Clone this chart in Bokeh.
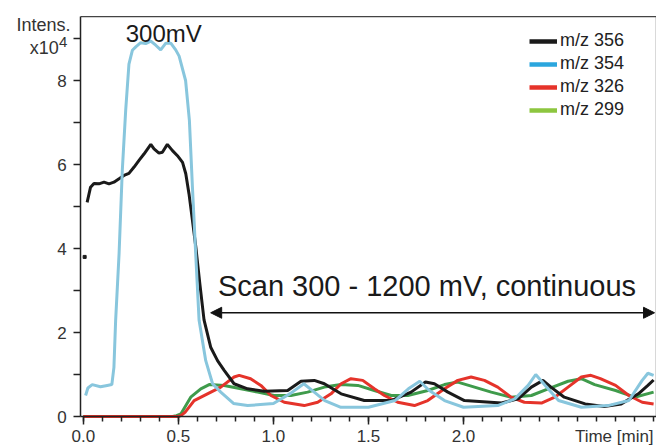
from bokeh.plotting import figure
from bokeh.models import (Range1d, FixedTicker, Label, Legend, LegendItem,
                          Arrow, NormalHead, LinearAxis)
from bokeh.embed import file_html
from bokeh.resources import INLINE

FONT = "Liberation Sans"
NAN = float("nan")

# ---- data (time in min, intensity in x10^4) ----
t_356 = [0.02, 0.038, 0.056, 0.082, 0.109, 0.135, 0.161, 0.188, 0.214, 0.24, 0.267, 0.293,
         0.319, 0.355, 0.372, 0.398, 0.416, 0.442, 0.469, 0.495, 0.522, 0.539, 0.556, 0.574,
         0.592, 0.612, 0.635, 0.67, 0.706, 0.741, 0.793, 0.864, 0.952, 1.075, 1.145, 1.215,
         1.268, 1.356, 1.478, 1.62, 1.724, 1.80, 1.847, 1.918, 2.005, 2.2, 2.287, 2.357,
         2.418, 2.46, 2.53, 2.64, 2.74, 2.83, 2.92, 2.97, 3.0]
i_356 = [5.1, 5.46, 5.55, 5.54, 5.58, 5.54, 5.58, 5.66, 5.74, 5.79, 5.94, 6.1,
         6.25, 6.48, 6.37, 6.27, 6.29, 6.48, 6.33, 6.21, 6.05, 5.78, 5.3, 4.67,
         4.03, 3.2, 2.3, 1.65, 1.33, 1.1, 0.78, 0.66, 0.6, 0.62, 0.84, 0.86,
         0.78, 0.54, 0.38, 0.38, 0.58, 0.82, 0.78, 0.58, 0.38, 0.32, 0.42, 0.7,
         0.86, 0.7, 0.46, 0.3, 0.24, 0.3, 0.54, 0.74, 0.87]

t_354 = [0.012, 0.024, 0.047, 0.09, 0.126, 0.15, 0.161, 0.17, 0.188, 0.205, 0.223, 0.24,
         0.258, 0.276, 0.302, 0.328, 0.355, 0.381, 0.407, 0.434, 0.46, 0.486, 0.504, 0.538,
         0.558, 0.574, 0.592, 0.609, 0.644, 0.68, 0.723, 0.79, 0.864, 1.0, 1.09, 1.16,
         1.21, 1.27, 1.355, 1.5, 1.64, 1.71, 1.77, 1.82, 1.9, 2.0, 2.18, 2.27, 2.34, 2.38,
         2.43, 2.5, 2.62, 2.76, 2.87, 2.94, 2.97, 3.0]
i_354 = [0.5, 0.68, 0.76, 0.71, 0.74, 0.76, 1.17, 2.29, 3.87, 5.86, 7.3, 8.39,
         8.72, 8.8, 8.9, 8.88, 8.94, 8.84, 8.73, 8.89, 8.89, 8.73, 8.58, 8.0,
         7.05, 5.46, 3.8, 2.29, 1.33, 0.78, 0.58, 0.31, 0.26, 0.31, 0.55, 0.78,
         0.6, 0.38, 0.22, 0.22, 0.38, 0.66, 0.84, 0.62, 0.38, 0.22, 0.26, 0.42, 0.74, 1.0,
         0.74, 0.38, 0.22, 0.26, 0.38, 0.86, 1.03, 0.98]

t_326 = [0.0, 0.5, 0.513, 0.535, 0.583, 0.653, 0.723, 0.793, 0.82, 0.88, 0.934, 0.987,
         1.057, 1.162, 1.233, 1.303, 1.356, 1.408, 1.47, 1.531, 1.584, 1.654, 1.742, 1.812,
         1.9, 1.97, 2.04, 2.11, 2.18, 2.25, 2.32, 2.41, 2.48, 2.55, 2.62, 2.67, 2.72, 2.8,
         2.87, 2.94, 3.0]
i_326 = [0.0, 0.0, 0.02, 0.1, 0.38, 0.54, 0.7, 0.94, 0.98, 0.9, 0.74, 0.5,
         0.34, 0.26, 0.34, 0.54, 0.78, 0.9, 0.86, 0.66, 0.5, 0.34, 0.26, 0.38,
         0.66, 0.86, 0.94, 0.86, 0.7, 0.46, 0.34, 0.32, 0.46, 0.7, 0.94, 0.98, 0.9, 0.74,
         0.5, 0.34, 0.3]

t_299 = [0.0, 0.47, 0.49, 0.513, 0.565, 0.618, 0.662, 0.741, 0.829, 0.917, 1.004, 1.092,
         1.18, 1.268, 1.356, 1.444, 1.531, 1.62, 1.707, 1.812, 1.9, 1.97, 2.058, 2.146,
         2.25, 2.357, 2.445, 2.55, 2.62, 2.69, 2.8, 2.9, 3.0]
i_299 = [0.0, 0.0, 0.02, 0.06, 0.46, 0.66, 0.76, 0.74, 0.66, 0.58, 0.5, 0.5,
         0.58, 0.7, 0.76, 0.74, 0.62, 0.5, 0.5, 0.62, 0.76, 0.82, 0.7, 0.58,
         0.46, 0.5, 0.66, 0.84, 0.9, 0.76, 0.62, 0.46, 0.58]

dot_t = [0.007]
dot_i = [3.8]

legend_labels = ["m/z 356", "m/z 354", "m/z 326", "m/z 299"]
legend_colors = ["#1a1a1a", "#2ba6de", "#e6332a", "#8dc63f"]
line_colors = {"356": "#1a1a1a", "354": "#88c6dd", "326": "#e5332a", "299": "#3f9b4b"}

x_major = [0.0, 0.5, 1.0, 1.5, 2.0]
x_minor = [round(0.1 * k, 1) for k in range(0, 31)]
y_major = [0, 2, 4, 6, 8]
y_minor = [1, 3, 5, 7, 9]

# axis box (data units)
x_lo, x_hi = -0.014, 3.015
y_lo, y_hi = 0.0, 9.52
# visible canvas range (frame spans whole canvas)
view_x = (-0.4357, 3.0153)
view_y = (-0.738, 9.905)

scan_start, scan_end, scan_level = 0.67, 3.005, 2.47

p = figure(width=656, height=447, output_backend="svg", toolbar_location=None,
           x_range=Range1d(*view_x), y_range=Range1d(*view_y),
           x_axis_location=None, y_axis_location=None,
           min_border_left=0, min_border_right=0, min_border_top=0, min_border_bottom=0)
p.background_fill_color = "white"
p.border_fill_color = "white"
p.outline_line_color = None
p.grid.visible = False

xaxis = LinearAxis(fixed_location=0.0, bounds=(x_lo, x_hi))
yaxis = LinearAxis(fixed_location=x_lo, bounds=(y_lo, y_hi))
p.add_layout(xaxis, "below")
p.add_layout(yaxis, "left")

for ax in (xaxis, yaxis):
    ax.axis_line_color = "#222222"
    ax.axis_line_width = 1.5
    ax.major_tick_line_color = "#222222"
    ax.major_tick_line_width = 1.5
    ax.minor_tick_line_color = "#222222"
    ax.minor_tick_line_width = 1.5
    ax.major_tick_in = 0
    ax.minor_tick_in = 0
    ax.major_label_text_font = FONT
    ax.major_label_text_font_size = "17px"
    ax.major_label_text_color = "#333333"

xaxis.ticker = FixedTicker(ticks=x_major, minor_ticks=x_minor)
xaxis.major_label_overrides = {v: f"{v:.1f}" for v in x_major}
xaxis.major_tick_out = 8
xaxis.minor_tick_out = 5
xaxis.major_label_standoff = 5

yaxis.ticker = FixedTicker(ticks=y_major, minor_ticks=y_minor)
yaxis.major_tick_out = 7
yaxis.minor_tick_out = 7
yaxis.major_label_standoff = 7

# top and right sides of the box
p.line([x_lo, x_hi, x_hi], [y_hi, y_hi, y_lo], line_color="#444444", line_width=1.3)

p.line(t_299, i_299, line_color=line_colors["299"], line_width=3)
p.line(t_326, i_326, line_color=line_colors["326"], line_width=3)
p.line(t_356, i_356, line_color=line_colors["356"], line_width=3)
p.line(t_354, i_354, line_color=line_colors["354"], line_width=3)
p.scatter(dot_t, dot_i, marker="square", size=3, color="#1a1a1a")

# legend with placeholder renderers (legend colours differ from trace colours)
items = []
for lab, col in zip(legend_labels, legend_colors):
    r = p.line([NAN], [NAN], line_color=col, line_width=4.5)
    items.append(LegendItem(label=lab, renderers=[r]))
legend = Legend(items=items, location=(529, 327), label_text_font=FONT,
                label_text_font_size="18px", label_text_color="#222222",
                glyph_width=28, glyph_height=20, label_height=20, label_standoff=3,
                spacing=2, padding=0, margin=0, border_line_color=None,
                background_fill_alpha=0)
p.add_layout(legend)

p.add_layout(Arrow(start=NormalHead(size=11, fill_color="#111111", line_color="#111111"),
                   end=NormalHead(size=11, fill_color="#111111", line_color="#111111"),
                   x_start=scan_start, y_start=scan_level, x_end=scan_end, y_end=scan_level,
                   line_color="#111111", line_width=1.5))

p.add_layout(Label(x=0.708, y=3.11, text="Scan 300 - 1200 mV, continuous",
                   text_font=FONT, text_font_size="29px", text_color="#1a1a1a",
                   text_align="left", text_baseline="alphabetic"))
p.add_layout(Label(x=0.423, y=9.12, text="300mV", text_font=FONT, text_font_size="24px",
                   text_color="#1a1a1a", text_align="center", text_baseline="alphabetic"))
p.add_layout(Label(x=-0.067, y=9.31, text="Intens.", text_font=FONT, text_font_size="18px",
                   text_color="#333333", text_align="right", text_baseline="alphabetic"))
p.add_layout(Label(x=-0.1286, y=8.78, text="x10", text_font=FONT, text_font_size="18px",
                   text_color="#333333", text_align="right", text_baseline="alphabetic"))
p.add_layout(Label(x=-0.1286, y=8.91, text="4", text_font=FONT, text_font_size="15px",
                   text_color="#333333", text_align="left", text_baseline="alphabetic"))
p.add_layout(Label(x=3.0, y=-0.486, text="Time [min]", text_font=FONT, text_font_size="17px",
                   text_color="#333333", text_align="right", text_baseline="alphabetic"))

open("out.html", "w").write(file_html(p, INLINE))
